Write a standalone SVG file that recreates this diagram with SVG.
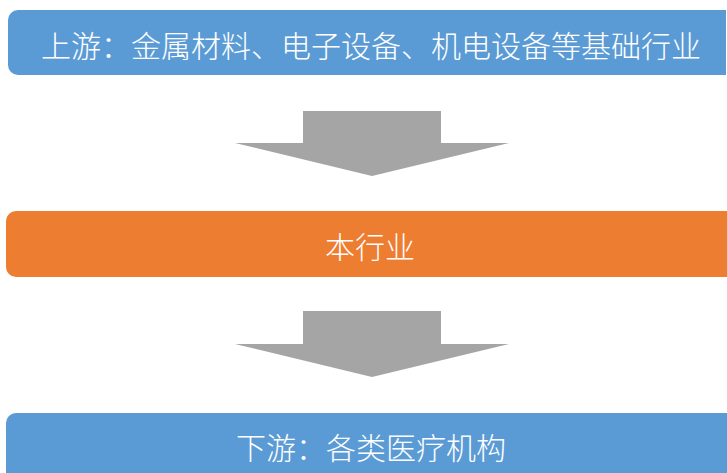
<svg xmlns="http://www.w3.org/2000/svg" width="727" height="473" viewBox="0 0 727 473">
<style>
.bar-blue{fill:#5B9BD5}
.bar-orange{fill:#ED7D31}
.arrow{fill:#A5A5A5}
.label{font-family:"Noto Sans CJK SC","Liberation Sans",sans-serif;font-size:30px;font-weight:300;fill:#FFFFFF;text-anchor:middle;dominant-baseline:central}
</style>
<rect width="727" height="473" fill="#FFFFFF"/>
<g id="upstream">
<path class="bar-blue" d="M18,10 H726 V75 H18 A10,10 0 0 1 8,65 V20 A10,10 0 0 1 18,10 Z"/>
<text class="label" x="371" y="44">上游：金属材料、电子设备、机电设备等基础行业</text>
</g>
<g id="industry">
<rect class="bar-orange" x="6" y="211" width="740" height="66" rx="10"/>
<text class="label" x="370" y="245">本行业</text>
</g>
<g id="downstream">
<rect class="bar-blue" x="6" y="413" width="740" height="80" rx="10"/>
<text class="label" x="371" y="446">下游：各类医疗机构</text>
</g>
<g id="connectors">
<polygon class="arrow" points="303,111 441,111 441,143 509,143 372,176 235,143 303,143"/>
<polygon class="arrow" points="303,311 441,311 441,344 509,344 372,377 235,344 303,344"/>
</g>
</svg>
